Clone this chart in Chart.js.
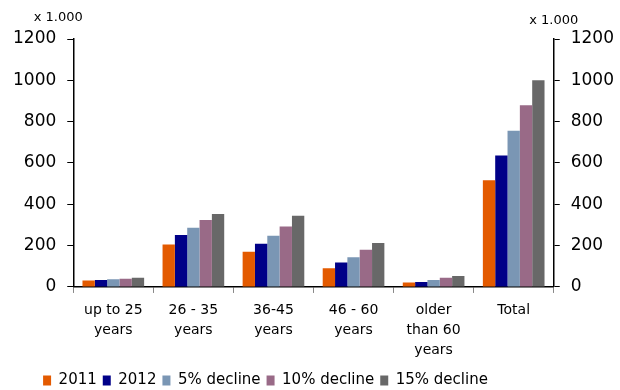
<!DOCTYPE html>
<html>
<head>
<meta charset="utf-8">
<script src="https://cdn.jsdelivr.net/npm/chart.js@4.4.1/dist/chart.umd.min.js"></script>
<style>
  html, body { margin: 0; padding: 0; background: #fff; }
  #wrap { width: 620px; height: 390px; }
</style>
</head>
<body>
<div id="wrap"><canvas id="ageChart"></canvas></div>
<script>
const categories = [
    ['up to 25', 'years'],
    ['26 - 35', 'years'],
    ['36-45', 'years'],
    ['46 - 60', 'years'],
    ['older', 'than 60', 'years'],
    'Total'
];

// values in thousands
const values2011 = [31, 205, 170, 91, 21, 516];
const values2012 = [34, 251, 209, 118, 24, 636];
const decline5 = [37, 286, 248, 144, 34, 756];
const decline10 = [40, 324, 293, 180, 44, 879];
const decline15 = [44, 353, 345, 213, 53, 1000];

const yTicks = [0, 200, 400, 600, 800, 1000, 1200];
const unitLabel = 'x 1.000';

const fontFamily = '"DejaVu Sans", Verdana, sans-serif';

// draws the "x 1.000" unit note above both value axes
const unitNote = {
    id: 'unitNote',
    afterDraw(chart) {
        const c = chart.ctx;
        c.save();
        c.font = '13px ' + fontFamily;
        c.fillStyle = '#000';
        c.textAlign = 'center';
        c.textBaseline = 'middle';
        c.fillText(unitLabel, chart.scales.y.right - 15, 18);
        c.fillText(unitLabel, chart.scales.y2.left, 21);
        c.restore();
    }
};

// pull the legend row a little to the left
const legendShift = {
    id: 'legendShift',
    afterLayout(chart) {
        chart.legend.left -= 48;
        chart.legend.right -= 48;
    }
};

function makeDataset(label, data, color) {
    return {
        label: label,
        data: data,
        backgroundColor: color,
        borderWidth: 0,
        yAxisID: 'y'
    };
}

function valueAxis(position) {
    return {
        position: position,
        min: 0,
        max: 1200,
        afterBuildTicks(scale) { scale.ticks = yTicks.map(v => ({ value: v })); },
        grid: { drawOnChartArea: false, tickLength: 6, color: '#000' },
        border: { color: '#000', width: 1.5 },
        ticks: {
            font: { family: fontFamily, size: 17 },
            color: '#000',
            padding: 11,
            callback: v => String(v)
        }
    };
}

const ctx = document.getElementById('ageChart').getContext('2d');
new Chart(ctx, {
    type: 'bar',
    data: {
        labels: categories,
        datasets: [
            makeDataset('2011', values2011, '#E35A00'),
            makeDataset('2012', values2012, '#000088'),
            makeDataset('5% decline', decline5, '#7A96B4'),
            makeDataset('10% decline', decline10, '#996A87'),
            makeDataset('15% decline', decline15, '#686868')
        ]
    },
    options: {
        responsive: true,
        maintainAspectRatio: false,
        animation: false,
        layout: { padding: { top: 39, left: 2, right: -5, bottom: -8 } },
        datasets: {
            bar: { categoryPercentage: 0.77, barPercentage: 1.0 }
        },
        plugins: {
            legend: {
                position: 'bottom',
                labels: {
                    font: { family: fontFamily, size: 15 },
                    color: '#000',
                    boxWidth: 8,
                    boxHeight: 10,
                    padding: 6
                }
            },
            tooltip: { enabled: false }
        },
        scales: {
            x: {
                grid: {
                    display: true,
                    drawOnChartArea: false,
                    tickLength: 6,
                    color: '#888'
                },
                border: { color: '#000', width: 1.5 },
                ticks: {
                    font: { family: fontFamily, size: 14, lineHeight: 1.43 },
                    color: '#000',
                    padding: 7,
                    maxRotation: 0,
                    autoSkip: false
                }
            },
            y: valueAxis('left'),
            y2: valueAxis('right')
        }
    },
    plugins: [unitNote, legendShift]
});
</script>
</body>
</html>
